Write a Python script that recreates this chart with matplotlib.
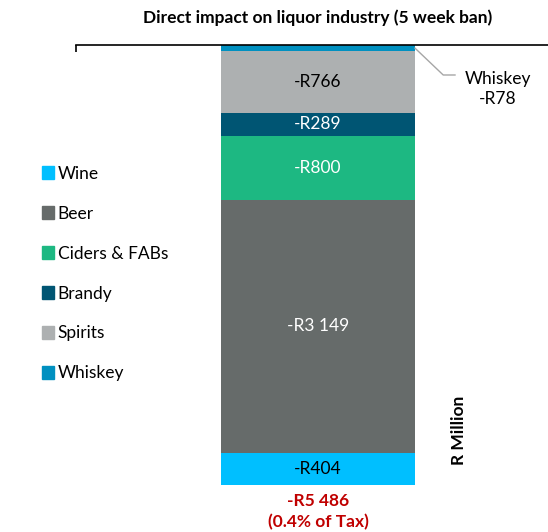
import matplotlib.pyplot as plt
from matplotlib.patches import Patch

plt.rcParams['font.family'] = ['Lato', 'DejaVu Sans']

# stacked from the top (0) downwards
categories = ['Whiskey', 'Spirits', 'Brandy', 'Ciders & FABs', 'Beer', 'Wine']
values = [-78, -766, -289, -800, -3149, -404]
labels = ['', '-R766', '-R289', '-R800', '-R3 149', '-R404']
colors = ['#0090C0', '#ADB0B1', '#005573', '#1DB882', '#666B6A', '#00BFFF']
text_colors = ['white', 'black', 'white', 'white', 'white', 'black']
legend_order = ['Wine', 'Beer', 'Ciders & FABs', 'Brandy', 'Spirits', 'Whiskey']
total = sum(values)

fig = plt.figure(figsize=(5.48, 5.32), dpi=100)
W, H = 548, 532
ax = fig.add_axes([76 / W, 1 - 485 / H, (548 - 76) / W, (485 - 45) / H])

fs = 12.5
xc = 0.5127
bw = 0.411
top = 0
for cat, v, lab, c, tc in zip(categories, values, labels, colors, text_colors):
    ax.bar(xc, v, bottom=top, width=bw, color=c, edgecolor='none')
    if lab:
        ax.text(xc, top + v / 2, lab, ha='center', va='center', fontsize=fs, color=tc)
    top += v

ax.set_xlim(0, 1)
ax.set_ylim(total, 0)
for s in ['left', 'right', 'bottom']:
    ax.spines[s].set_visible(False)
ax.spines['top'].set_linewidth(1.2)
ax.set_yticks([])
ax.xaxis.tick_top()
ax.set_xticks([0])
ax.tick_params(axis='x', direction='in', length=5, width=1.2, labeltop=False)

# whiskey callout
bar_right = xc + bw / 2
ax.plot([bar_right, 0.778, 0.803], [values[0] / 2, -374, -374],
        color='#A6A6A6', lw=1, clip_on=False)
ax.text(0.893, -549, 'Whiskey\n-R78', ha='center', va='center', fontsize=fs,
        linespacing=1.25)

ax.text(xc, total - 200, '-R5 486', ha='center', va='center', fontsize=fs,
        fontweight='bold', color='#C00000')
ax.text(xc, total - 460, '(0.4% of Tax)', ha='center', va='center', fontsize=fs,
        fontweight='bold', color='#C00000')
ax.text(0.812, total + 680, 'R Million', rotation=90, ha='center', va='center',
        fontsize=fs, fontweight='bold')

fig.text(318 / W, 1 - 18 / H, 'Direct impact on liquor industry (5 week ban)',
         ha='center', va='center', fontsize=fs, fontweight='bold')

handles = [Patch(color=colors[categories.index(n)], label=n) for n in legend_order]
fig.legend(handles=handles, loc='upper left', bbox_to_anchor=(26 / W, 1 - 150 / H),
           frameon=False, fontsize=fs, labelspacing=1.38, handlelength=0.72,
           handleheight=0.72, handletextpad=0.2)

fig.savefig('out.png', dpi=100)
